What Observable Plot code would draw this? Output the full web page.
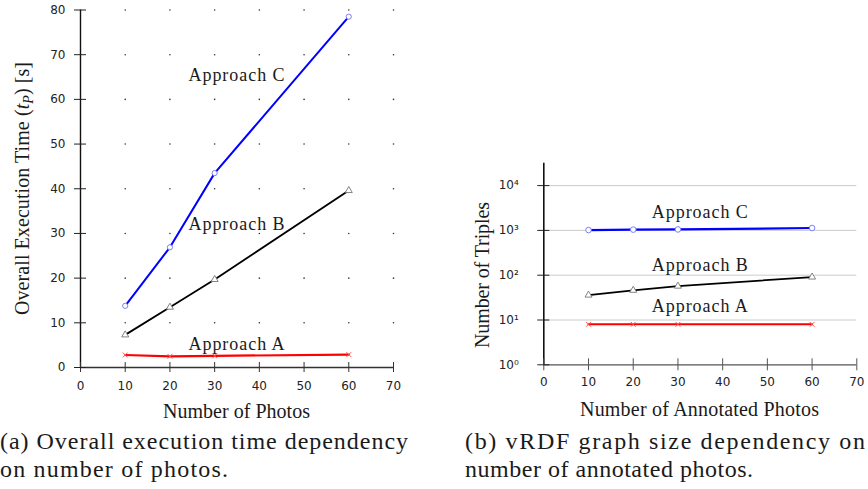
<!DOCTYPE html>
<html><head><meta charset="utf-8">
<script src="https://cdn.jsdelivr.net/npm/d3@7"></script>
<script src="https://cdn.jsdelivr.net/npm/@observablehq/plot@0.6"></script>
<style>
body{margin:0;background:#fff;}
#wrap{position:relative;width:868px;height:489px;overflow:hidden;background:#fff;}
#wrap svg.plot{position:absolute;overflow:visible;}
#overlay{position:absolute;left:0;top:0;}
g[aria-label="text"] text{letter-spacing:0.95px;}
</style></head><body><div id="wrap"></div>
<script>
// ---- data ----
const photos = [10, 20, 30, 60];
const timeA = [2.8, 2.5, 2.6, 2.9];
const timeB = [7.3, 13.5, 19.7, 39.6];
const timeC = [13.8, 26.9, 43.5, 78.5];
const triplesA = [8, 8, 8, 8];
const triplesB = [36, 46, 57, 91];
const triplesC = [1018, 1040, 1050, 1130];
const approaches = ["Approach A", "Approach B", "Approach C"];
const labelX = [35, 35, 35];
const labelYTime = [5.2, 32.1, 65.3];
const labelYTriples = [20, 163, 2520];
const xTicks = [0, 10, 20, 30, 40, 50, 60, 70];
const yTicksTime = [0, 10, 20, 30, 40, 50, 60, 70, 80];
const yTicksTriples = [1, 10, 100, 1000, 10000];
const captionA = ["(a) Overall execution time dependency", "on number of photos."];
const captionB = ["(b) vRDF graph size dependency on", "number of annotated photos."];

const serif = "'Liberation Serif', 'Times New Roman', serif";
const sans = "'DejaVu Sans', sans-serif";
const series = (ys) => photos.map((x, i) => ({x, y: ys[i]}));
const labels = (ys) => approaches.map((t, i) => ({t, x: labelX[i], y: ys[i]}));
const gridDots = xTicks.filter(d => d > 0).flatMap(x => yTicksTime.filter(d => d > 0).map(y => ({x, y})));

const wrap = document.getElementById("wrap");

// ---- left panel ----
const left = Plot.plot({
  width: 420, height: 400,
  marginLeft: 80, marginRight: 27, marginTop: 9.5, marginBottom: 33,
  style: {fontFamily: sans, fontSize: "12px", color: "#222", background: "transparent"},
  x: {domain: [0, 70]},
  y: {domain: [0, 80]},
  marks: [
    Plot.dot(gridDots, {x: "x", y: "y", r: 0.8, fill: "#333", stroke: null}),
    Plot.ruleY([0], {x1: 0, x2: 70, stroke: "#333", strokeWidth: 1.4}),
    Plot.ruleX([0], {y1: 0, y2: 80, stroke: "#111", strokeWidth: 1.4}),
    Plot.ruleX(xTicks, {x: d => d, y1: 0, y2: 0, insetTop: -5, insetBottom: -5, stroke: "#333", strokeWidth: 1}),
    Plot.ruleY(yTicksTime, {y: d => d, x1: 0, x2: 0, insetLeft: -6, insetRight: -6, stroke: "#222", strokeWidth: 1}),
    Plot.axisX({ticks: xTicks, tickSize: 0, tickPadding: 14, label: null, tickFormat: d => String(d)}),
    Plot.axisY({ticks: yTicksTime, tickSize: 0, tickPadding: 15, label: null, tickFormat: d => String(d)}),
    Plot.line(series(timeA), {x: "x", y: "y", stroke: "#ff0000", strokeWidth: 2.2}),
    Plot.line(series(timeB), {x: "x", y: "y", stroke: "#000", strokeWidth: 1.8}),
    Plot.line(series(timeC), {x: "x", y: "y", stroke: "#0000ff", strokeWidth: 2}),
    Plot.dot(series(timeA), {x: "x", y: "y", symbol: "times", r: 2.3, stroke: "#ff5555", strokeWidth: 1}),
    Plot.dot(series(timeB), {x: "x", y: "y", symbol: "triangle", r: 2.6, stroke: "#777", fill: "white", strokeWidth: 0.9}),
    Plot.dot(series(timeC), {x: "x", y: "y", symbol: "circle", r: 2.6, stroke: "#7070ff", fill: "white", strokeWidth: 0.9}),
    Plot.text(labels(labelYTime), {x: "x", y: "y", text: "t", fontSize: 18, fontFamily: serif, fill: "#1a1a1a"})
  ]
});
left.classList.add("plot");
left.style.left = "0px"; left.style.top = "0px";
wrap.appendChild(left);

// ---- right panel ----
const sup = {"0": "\u2070", "1": "\u00b9", "2": "\u00b2", "3": "\u00b3", "4": "\u2074"};
const right = Plot.plot({
  width: 428, height: 250,
  marginLeft: 103.3, marginRight: 11.7, marginTop: 12.7, marginBottom: 35.7,
  style: {fontFamily: sans, fontSize: "12px", color: "#222", background: "transparent"},
  x: {domain: [0, 70]},
  y: {type: "log", domain: [1, Math.pow(10, 4.5)]},
  marks: [
    Plot.ruleY(yTicksTriples.filter(d => d > 1), {y: d => d, stroke: "#cccccc", strokeWidth: 1}),
    Plot.ruleY([1], {x1: 0, x2: 70, stroke: "#555", strokeWidth: 1.2}),
    Plot.ruleX([0], {stroke: "#111", strokeWidth: 1.6}),
    Plot.ruleX(xTicks, {x: d => d, y1: 1, y2: 1, insetTop: -6, insetBottom: -6, stroke: "#555", strokeWidth: 1}),
    Plot.ruleY(yTicksTriples, {y: d => d, x1: 0, x2: 0, insetLeft: -6, insetRight: -6, stroke: "#222", strokeWidth: 1}),
    Plot.axisX({ticks: xTicks, tickSize: 0, tickPadding: 13, label: null, tickFormat: d => String(d)}),
    Plot.axisY({ticks: yTicksTriples, tickSize: 0, tickPadding: 25, label: null,
      tickFormat: d => "10" + sup[String(Math.round(Math.log10(d)))]}),
    Plot.line(series(triplesA), {x: "x", y: "y", stroke: "#ff0000", strokeWidth: 2}),
    Plot.line(series(triplesB), {x: "x", y: "y", stroke: "#000", strokeWidth: 1.8}),
    Plot.line(series(triplesC), {x: "x", y: "y", stroke: "#0000ff", strokeWidth: 2.2}),
    Plot.dot(series(triplesA), {x: "x", y: "y", symbol: "times", r: 2.3, stroke: "#ff5555", strokeWidth: 1}),
    Plot.dot(series(triplesB), {x: "x", y: "y", symbol: "triangle", r: 2.6, stroke: "#777", fill: "white", strokeWidth: 0.9}),
    Plot.dot(series(triplesC), {x: "x", y: "y", symbol: "circle", r: 2.8, stroke: "#7070ff", fill: "white", strokeWidth: 0.9}),
    Plot.text(labels(labelYTriples), {x: "x", y: "y", text: "t", fontSize: 18, fontFamily: serif, fill: "#1a1a1a"})
  ]
});
right.classList.add("plot");
right.style.left = "440px"; right.style.top = "150px";
wrap.appendChild(right);

// ---- titles and captions ----
const ov = d3.select(wrap).append("svg").attr("id", "overlay")
  .attr("width", 868).attr("height", 489)
  .style("font-family", serif).style("fill", "#1a1a1a");

function addText(str, x, y, size, len, anchor, rotate) {
  const t = ov.append("text").attr("x", x).attr("y", y).attr("font-size", size)
    .attr("text-anchor", anchor).attr("textLength", len).attr("lengthAdjust", "spacing").text(str);
  if (rotate) t.attr("transform", `rotate(-90 ${x} ${y})`);
  return t;
}
addText("Number of Photos", 236.5, 418, 20, 147, "middle");
addText("Number of Annotated Photos", 699.5, 416, 20, 239, "middle");
addText("Number of Triples", 489, 275, 20, 146, "middle", true);

// left y title with italic t and subscript P
const yt = ov.append("text").attr("x", 29).attr("y", 188.5).attr("font-size", 20)
  .attr("text-anchor", "middle").attr("transform", "rotate(-90 29 188.5)")
  .attr("textLength", 253).attr("lengthAdjust", "spacing");
yt.append("tspan").text("Overall Execution Time (");
yt.append("tspan").attr("font-style", "italic").text("t");
yt.append("tspan").attr("font-style", "italic").attr("font-size", 14).attr("dy", 4).text("P");
yt.append("tspan").attr("dy", -4).text(") [s]");

addText(captionA[0], 0, 449, 24, 408, "start");
addText(captionA[1], 0, 477, 24, 228, "start");
addText(captionB[0], 465, 449, 24, 400, "start");
addText(captionB[1], 465, 477, 24, 288, "start");
</script>
</body></html>
